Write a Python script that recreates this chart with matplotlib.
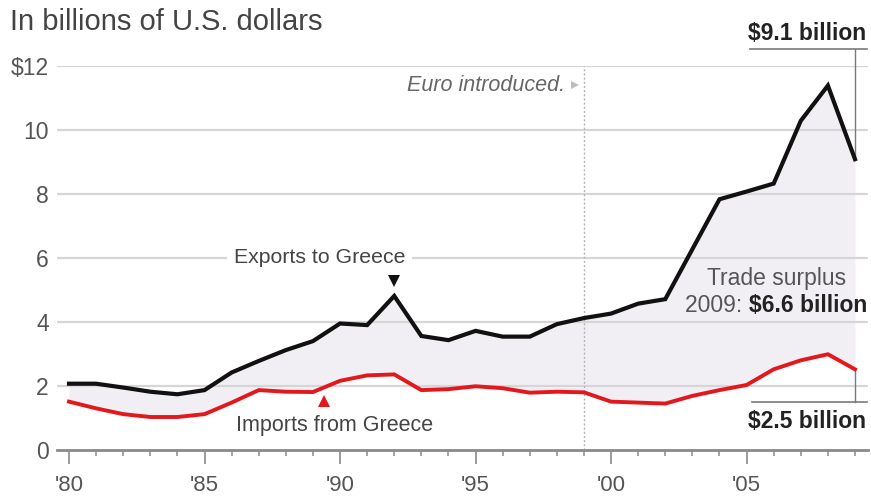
import matplotlib
matplotlib.use("Agg")
import matplotlib.pyplot as plt

years = list(range(1980, 2010))
exports = [2.07, 2.07, 1.95, 1.82, 1.74, 1.87, 2.42, 2.78, 3.12, 3.40,
           3.95, 3.90, 4.81, 3.56, 3.43, 3.72, 3.54, 3.54, 3.93, 4.12,
           4.26, 4.57, 4.71, 6.27, 7.83, 8.07, 8.32, 10.28, 11.38, 9.08]
imports = [1.51, 1.30, 1.12, 1.03, 1.03, 1.12, 1.48, 1.87, 1.82, 1.81,
           2.16, 2.33, 2.36, 1.87, 1.90, 1.99, 1.93, 1.79, 1.82, 1.80,
           1.51, 1.48, 1.45, 1.69, 1.87, 2.03, 2.52, 2.80, 2.99, 2.52]
y_ticks = [0, 2, 4, 6, 8, 10, 12]
y_labels = ["0", "2", "4", "6", "8", "10", "$12"]
x_major = [1980, 1985, 1990, 1995, 2000, 2005]
x_labels = ["'80", "'85", "'90", "'95", "'00", "'05"]
euro_year = 1999

FONT = "Liberation Sans"
GRAY = "#555555"
LINEGRAY = "#7a7a7a"

fig = plt.figure(figsize=(8.71, 5.0), dpi=100)
ax = fig.add_axes([57/871, 50/500, (868-57)/871, (450-65.7)/500])
ax.set_xlim(1980 - 12/27.1, 2009 + 13/27.1)
ax.set_ylim(0, 12)

for s in ax.spines.values():
    s.set_visible(False)

# gridlines
for yt in y_ticks[1:]:
    ax.axhline(yt, color="#d6d6d6", lw=1.6, zorder=1)
ax.axhline(0, color="#8a8a8a", lw=2.0, zorder=4, clip_on=False)

# fill between
ax.fill_between(years, imports, exports, color="#f1eff4", zorder=0.5, lw=0)

# euro line
ax.axvline(euro_year, color="#b5b5b5", lw=1.0, ls=(0, (1.5, 1.5)), zorder=1.5)

ax.plot(years, exports, color="#111111", lw=3.0, zorder=5, solid_joinstyle="miter")
ax.plot(years, imports, color="#e3171c", lw=2.8, zorder=5, solid_joinstyle="miter")

# ticks
ax.set_yticks(y_ticks)
ax.set_yticklabels(y_labels, fontname=FONT, fontsize=16.5, color=GRAY)
ax.tick_params(axis="y", length=0, pad=6)
ax.set_xticks(x_major)
ax.set_xticklabels(x_labels, fontname=FONT, fontsize=16, color=GRAY)
ax.set_xticks(years, minor=True)
ax.tick_params(axis="x", which="major", length=10, width=1.2, color="#8a8a8a",
               direction="out", pad=8)
ax.tick_params(axis="x", which="minor", length=4.5, width=1.1, color="#8a8a8a",
               direction="out")

# title
fig.text(10/871, 1 - 22/500, "In billions of U.S. dollars", fontname=FONT, fontsize=21,
         color="#444444", va="center", ha="left")

# Euro introduced
ax.text(1998.3, 11.37, "Euro introduced.", fontname=FONT, fontsize=15.5,
        style="italic", color="#666666", ha="right", va="center", zorder=6)
ax.plot([1998.67], [11.4], marker=">", color="#bdbdbd", ms=6, mew=0, zorder=6)

# Exports label
ax.text(1989.24, 6.0, "Exports to Greece", fontname=FONT, fontsize=15.3, color="#444444",
        ha="center", va="center", zorder=6,
        bbox=dict(boxstyle="square,pad=0.3", fc="white", ec="none"))
ax.plot([1992], [5.28], marker="v", color="#111111", ms=9, mew=0, zorder=6)

# Imports label
ax.text(1989.78, 0.75, "Imports from Greece", fontname=FONT, fontsize=15.5, color="#444444",
        ha="center", va="center", zorder=6)
ax.plot([1989.41], [1.53], marker="^", color="#e3171c", ms=9, mew=0, zorder=6)

# Trade surplus
ax.text(2006.1, 5.37, "Trade surplus", fontname=FONT, fontsize=16.5, color="#555555",
        ha="center", va="center", zorder=6)
tb = ax.text(2009.45, 4.5, "$6.6 billion", fontname=FONT, fontsize=16.5, weight="bold",
             color="#222222", ha="right", va="center", zorder=6)
ax.annotate("2009: ", xy=(0, 0.5), xycoords=tb, fontname=FONT, fontsize=16.5,
            color="#555555", ha="right", va="center", zorder=6)

# $9.1 billion callout
ax.text(2009.41, 13.0, "$9.1 billion", fontname=FONT, fontsize=16.5, weight="bold",
        color="#222222", ha="right", va="center", zorder=6, clip_on=False)
ax.plot([2005.13, 2009.45], [12.53, 12.53], color=LINEGRAY, lw=1.2, clip_on=False, zorder=6)
ax.plot([2009, 2009], [12.53, exports[-1]], color=LINEGRAY, lw=1.0, clip_on=False, zorder=4)

# $2.5 billion callout
ax.text(2009.41, 0.9, "$2.5 billion", fontname=FONT, fontsize=16.5, weight="bold",
        color="#222222", ha="right", va="center", zorder=6)
ax.plot([2005.2, 2009.45], [1.5, 1.5], color=LINEGRAY, lw=1.2, zorder=6)
ax.plot([2009, 2009], [imports[-1], 1.5], color=LINEGRAY, lw=1.0, zorder=4)

fig.savefig("out.png", dpi=100)
